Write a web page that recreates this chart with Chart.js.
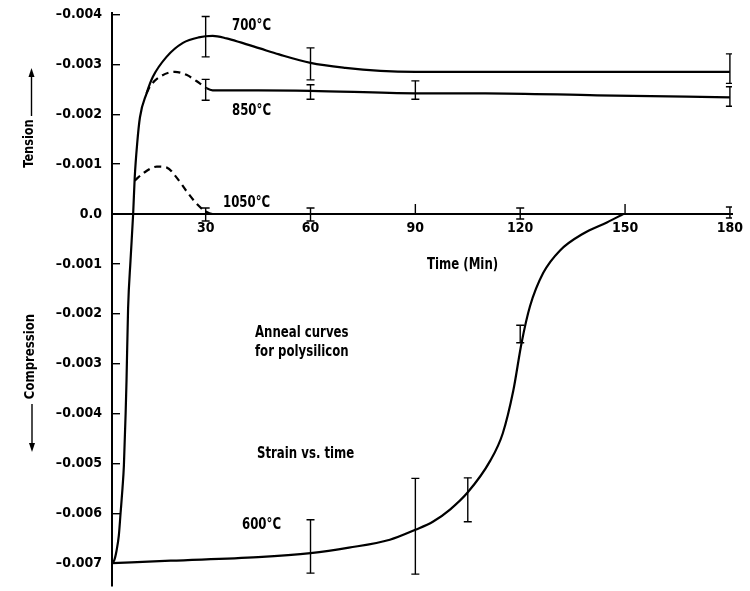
<!DOCTYPE html>
<html>
<head>
<meta charset="utf-8">
<script src="https://cdn.jsdelivr.net/npm/chart.js@4.4.1/dist/chart.umd.min.js"></script>
<style>
  html, body { margin: 0; padding: 0; background: #fff; }
  canvas { display: block; }
</style>
</head>
<body>
<canvas id="chart" width="750" height="591"></canvas>
<script>
// Strain is stored in units of 1e-3; tension plots upward, compression downward.
const yTickValues = [4, 3, 2, 1, 0, -1, -2, -3, -4, -5, -6, -7];
const xTickValues = [30, 60, 90, 120, 150, 180];

// 700 °C anneal (the common initial rise is drawn with this curve)
const time700 = [3.2, 3.8, 4.5, 5.15, 5.65, 6.2, 6.6, 7.1, 7.35, 7.8, 8.5, 9.25, 9.7, 10.4, 11.2, 13.1, 14.9, 18.8, 23.5, 28, 32, 36, 40, 45.5, 51, 60, 70, 80, 90, 120, 150, 180];
const strain700 = [-7.0, -6.95, -6.75, -6.45, -6.0, -5.5, -5.05, -4.0, -3.35, -1.9, -0.93, 0, 0.73, 1.41, 1.94, 2.42, 2.75, 3.15, 3.43, 3.54, 3.57, 3.52, 3.44, 3.32, 3.2, 3.03, 2.93, 2.87, 2.85, 2.85, 2.85, 2.85];

// 850 °C anneal
const time850 = [13.1, 14.0, 16.9, 21.2, 24.5, 28.3, 30.3, 32, 45, 60, 90, 110, 142, 180];
const strain850 = [2.42, 2.55, 2.75, 2.85, 2.79, 2.62, 2.52, 2.48, 2.48, 2.47, 2.42, 2.42, 2.38, 2.34];

// 1050 °C anneal
const time1050 = [9.7, 12, 16, 18.9, 21.7, 24.5, 27.5, 30, 32, 180];
const strain1050 = [0.67, 0.81, 0.95, 0.93, 0.73, 0.46, 0.2, 0.05, 0, 0];

// 600 °C anneal
const time600 = [3.2, 20, 45, 60, 71, 82.7, 90, 95, 100, 105, 111.4, 115, 118, 120.4, 122.8, 126.6, 131.4, 138.1, 144.8, 149.5];
const strain600 = [-7.0, -6.95, -6.88, -6.8, -6.69, -6.53, -6.33, -6.17, -5.92, -5.58, -4.95, -4.4, -3.55, -2.58, -1.85, -1.18, -0.73, -0.39, -0.17, 0];

// Measurement spread (upper / lower ends of each bar)
const errTime700 = [30, 60, 180];
const errHigh700 = [3.96, 3.33, 3.21];
const errLow700 = [3.15, 2.69, 2.62];

const errTime850 = [30, 60, 90, 180];
const errHigh850 = [2.70, 2.59, 2.67, 2.55];
const errLow850 = [2.28, 2.30, 2.30, 2.16];

const errTime1050 = [30, 60, 120, 180];
const errHigh1050 = [0.12, 0.12, 0.12, 0.14];
const errLow1050 = [-0.14, -0.14, -0.1, -0.08];

const stubTime1050 = [90, 150];
const stubHigh1050 = [0.2, 0.2];
const stubLow1050 = [0, 0];

const errTime600 = [60, 90, 105, 120];
const errHigh600 = [-6.13, -5.3, -5.29, -2.23];
const errLow600 = [-7.2, -7.22, -6.17, -2.58];

const FONT = "'Liberation Sans Narrow', 'Arial Narrow', 'DejaVu Sans Condensed', sans-serif";

const toPoints = (xs, ys) => xs.map((x, i) => ({ x: x, y: ys[i] }));
const toBars = (xs, hi, lo) => xs.flatMap((x, i) => [{ x: x, y: lo[i] }, { x: x, y: hi[i] }, { x: x, y: null }]);

const curve = (data, dashBefore) => ({
  data: data,
  borderColor: '#000',
  borderWidth: 2.2,
  pointRadius: 0,
  fill: false,
  cubicInterpolationMode: 'monotone',
  segment: dashBefore ? { borderDash: ctx => (ctx.p0.parsed.x < dashBefore ? [7, 5] : undefined) } : undefined
});

const errorBars = (data, capped) => ({
  data: data,
  borderColor: '#000',
  borderWidth: 1.4,
  pointStyle: 'line',
  pointRadius: capped ? 4 : 0,
  pointBorderWidth: 1.4,
  pointBorderColor: '#000',
  spanGaps: false,
  fill: false
});

// Free text labels on the plot
const notes = [
  { text: '700°C', x: 232, y: 26 },
  { text: '850°C', x: 232, y: 111 },
  { text: '1050°C', x: 223, y: 203 },
  { text: '600°C', x: 242, y: 525 },
  { text: 'Time (Min)', x: 427, y: 265 },
  { text: 'Anneal curves', x: 255, y: 333 },
  { text: 'for polysilicon', x: 255, y: 352 },
  { text: 'Strain vs. time', x: 257, y: 454 }
];

// Draws text squeezed horizontally, as in a condensed typeface
function narrowText(ctx, text, x, y, squeeze) {
  ctx.save();
  ctx.translate(x, y);
  ctx.scale(squeeze, 1);
  ctx.fillText(text, 0, 0);
  ctx.restore();
}

const annotationPlugin = {
  id: 'annotations',
  afterDraw(chart) {
    const ctx = chart.ctx;
    ctx.save();
    ctx.fillStyle = '#000';
    ctx.strokeStyle = '#000';
    ctx.font = `bold 15px ${FONT}`;
    ctx.textBaseline = 'middle';
    ctx.textAlign = 'left';
    notes.forEach(n => narrowText(ctx, n.text, n.x, n.y, 0.87));

    // Vertical axis captions with arrows
    ctx.font = `bold 14px ${FONT}`;
    ctx.textAlign = 'center';
    ctx.save();
    ctx.translate(29, 143.5);
    ctx.rotate(-Math.PI / 2);
    narrowText(ctx, 'Tension', 0, 0, 0.9);
    ctx.restore();
    ctx.save();
    ctx.translate(30, 356.5);
    ctx.rotate(-Math.PI / 2);
    narrowText(ctx, 'Compression', 0, 0, 0.93);
    ctx.restore();

    ctx.lineWidth = 1.4;
    ctx.beginPath();
    ctx.moveTo(31.5, 116);
    ctx.lineTo(31.5, 74);
    ctx.stroke();
    ctx.beginPath();
    ctx.moveTo(31.5, 68);
    ctx.lineTo(28.5, 77);
    ctx.lineTo(34.5, 77);
    ctx.closePath();
    ctx.fill();

    ctx.beginPath();
    ctx.moveTo(32, 404);
    ctx.lineTo(32, 446);
    ctx.stroke();
    ctx.beginPath();
    ctx.moveTo(32, 452);
    ctx.lineTo(29, 443);
    ctx.lineTo(35, 443);
    ctx.closePath();
    ctx.fill();
    ctx.restore();
  }
};

new Chart(document.getElementById('chart'), {
  type: 'line',
  data: {
    datasets: [
      curve(toPoints(time700, strain700)),
      curve(toPoints(time850, strain850), 30.3),
      curve(toPoints(time1050, strain1050), 30),
      curve(toPoints(time600, strain600)),
      errorBars(toBars(errTime700, errHigh700, errLow700), true),
      errorBars(toBars(errTime850, errHigh850, errLow850), true),
      errorBars(toBars(errTime1050, errHigh1050, errLow1050), true),
      errorBars(toBars(stubTime1050, stubHigh1050, stubLow1050), false),
      errorBars(toBars(errTime600, errHigh600, errLow600), true)
    ]
  },
  options: {
    responsive: false,
    animation: false,
    devicePixelRatio: 1,
    layout: { padding: { top: 13, right: 18, bottom: 2, left: 0 } },
    plugins: { legend: { display: false }, tooltip: { enabled: false } },
    scales: {
      x: {
        type: 'linear',
        position: { y: 0 },
        min: 3.2,
        max: 180.6,
        afterBuildTicks: scale => { scale.ticks = xTickValues.map(v => ({ value: v })); },
        afterFit: scale => {
          scale.height = 0;
          scale.paddingLeft = 0;
          scale.paddingRight = 0;
        },
        grid: { drawOnChartArea: false, drawTicks: false },
        border: { display: true, color: '#000', width: 2 },
        ticks: { color: '#000', padding: 6, maxRotation: 0, autoSkip: false, font: { family: FONT, size: 14, weight: 'bold' } }
      },
      y: {
        type: 'linear',
        min: -7.45,
        max: 4.03,
        afterBuildTicks: scale => { scale.ticks = yTickValues.map(v => ({ value: v })); },
        afterFit: scale => {
          scale.width = 112;
          scale.paddingTop = 0;
          scale.paddingBottom = 0;
        },
        grid: { drawOnChartArea: false, tickLength: -8, color: '#000', lineWidth: 1.4 },
        border: { display: true, color: '#000', width: 2 },
        ticks: {
          color: '#000',
          padding: 18,
          autoSkip: false,
          font: { family: FONT, size: 14, weight: 'bold' },
          callback: v => (v === 0 ? '0.0' : '\u20130.00' + Math.abs(v))
        }
      }
    }
  },
  plugins: [annotationPlugin]
});
</script>
</body>
</html>
